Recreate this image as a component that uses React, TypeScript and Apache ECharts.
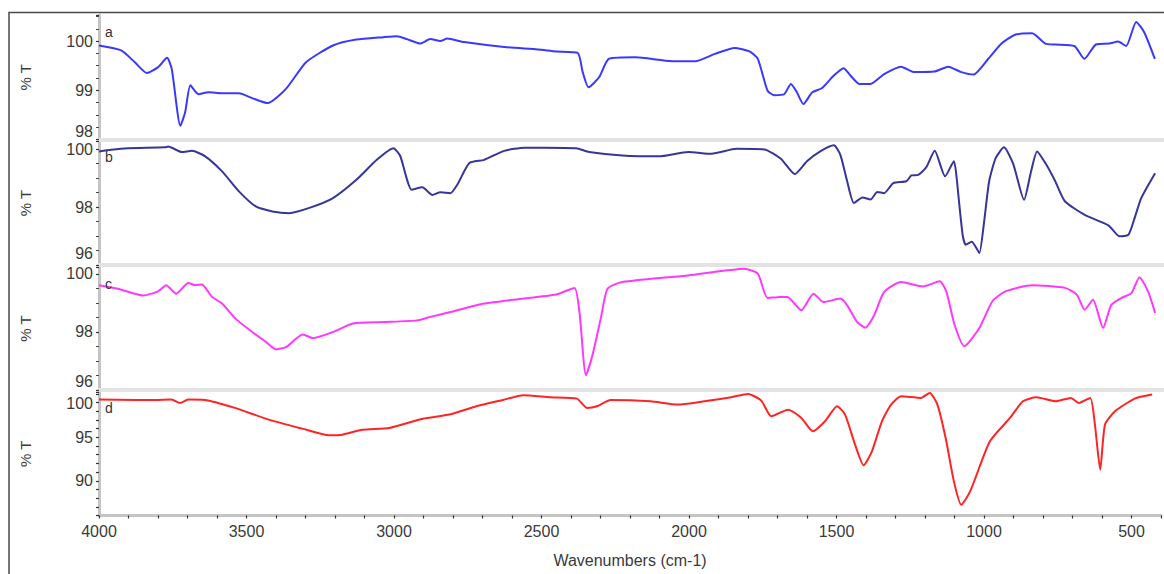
import React, { useEffect, useRef } from "react";
import * as echarts from "echarts";

const FONT = '"Liberation Sans", Arial, sans-serif';

// ---- data (wavenumber cm-1, %T) ----
const aWave = [4000, 3925, 3879, 3838, 3800, 3770, 3754, 3725, 3709, 3691, 3664, 3630, 3584, 3527, 3482, 3430, 3368, 3300, 3209, 3130, 3039, 2993, 2959, 2914, 2880, 2846, 2823, 2766, 2630, 2516, 2455, 2382, 2365, 2345, 2309, 2276, 2186, 2063, 1985, 1918, 1851, 1801, 1773, 1740, 1717, 1684, 1661, 1641, 1619, 1589, 1557, 1516, 1483, 1460, 1430, 1392, 1346, 1289, 1244, 1176, 1130, 1085, 1044, 994, 949, 903, 846, 801, 767, 703, 669, 630, 585, 555, 528, 494, 467, 431];
const aT = [99.91, 99.81, 99.57, 99.35, 99.47, 99.66, 99.43, 98.28, 98.55, 99.10, 98.92, 98.96, 98.94, 98.94, 98.84, 98.74, 99.03, 99.57, 99.91, 100.03, 100.08, 100.10, 100.04, 99.95, 100.04, 100.0, 100.05, 99.98, 99.88, 99.83, 99.79, 99.76, 99.37, 99.06, 99.27, 99.64, 99.67, 99.59, 99.59, 99.74, 99.86, 99.79, 99.64, 98.99, 98.90, 98.92, 99.13, 98.96, 98.72, 98.96, 99.04, 99.30, 99.45, 99.30, 99.13, 99.13, 99.33, 99.48, 99.37, 99.38, 99.48, 99.37, 99.32, 99.64, 99.95, 100.13, 100.16, 99.95, 99.93, 99.90, 99.64, 99.93, 99.95, 99.99, 99.90, 100.39, 100.18, 99.64];

const bWave = [4000, 3959, 3902, 3777, 3766, 3720, 3686, 3641, 3584, 3527, 3470, 3414, 3357, 3289, 3209, 3130, 3061, 3005, 2982, 2943, 2907, 2873, 2846, 2812, 2789, 2748, 2698, 2630, 2562, 2493, 2387, 2343, 2231, 2108, 2008, 1929, 1845, 1751, 1695, 1648, 1607, 1562, 1516, 1494, 1471, 1448, 1419, 1392, 1369, 1346, 1315, 1271, 1254, 1231, 1204, 1175, 1140, 1110, 1102, 1092, 1080, 1070, 1050, 1035, 1024, 1008, 991, 969, 941, 910, 873, 850, 829, 800, 768, 735, 668, 588, 550, 520, 500, 477, 430];
const bT = [99.92, 99.98, 100.03, 100.06, 100.09, 99.90, 99.94, 99.75, 99.23, 98.54, 98.02, 97.85, 97.79, 97.97, 98.31, 98.94, 99.63, 100.03, 99.77, 98.60, 98.68, 98.42, 98.51, 98.48, 98.77, 99.52, 99.63, 99.94, 100.05, 100.05, 100.03, 99.90, 99.78, 99.75, 99.90, 99.84, 100.01, 99.99, 99.67, 99.14, 99.58, 99.92, 100.13, 99.80, 98.89, 98.14, 98.33, 98.26, 98.52, 98.48, 98.83, 98.89, 99.09, 99.11, 99.37, 99.94, 99.06, 99.58, 99.11, 98.10, 97.00, 96.70, 96.80, 96.60, 96.41, 97.50, 98.89, 99.69, 100.06, 99.50, 98.25, 99.20, 99.92, 99.50, 98.90, 98.20, 97.73, 97.37, 96.99, 97.05, 97.60, 98.31, 99.17];

const cWave = [4000, 3936, 3852, 3800, 3773, 3739, 3698, 3675, 3652, 3618, 3584, 3539, 3482, 3436, 3402, 3368, 3311, 3277, 3209, 3141, 3039, 2925, 2880, 2812, 2698, 2584, 2455, 2393, 2376, 2354, 2332, 2304, 2281, 2231, 2008, 1818, 1773, 1740, 1698, 1673, 1626, 1585, 1551, 1494, 1471, 1437, 1410, 1380, 1346, 1289, 1214, 1158, 1136, 1108, 1075, 1024, 980, 936, 846, 735, 695, 668, 640, 606, 578, 545, 510, 483, 454, 430];
const cT = [99.61, 99.49, 99.26, 99.40, 99.61, 99.32, 99.69, 99.61, 99.64, 99.21, 98.98, 98.46, 98.00, 97.66, 97.40, 97.48, 97.91, 97.79, 98.00, 98.29, 98.34, 98.40, 98.52, 98.69, 98.98, 99.13, 99.29, 99.52, 98.69, 96.51, 97.20, 98.46, 99.49, 99.72, 99.95, 100.18, 100.01, 99.17, 99.21, 99.21, 98.75, 99.32, 99.03, 99.15, 98.92, 98.34, 98.15, 98.57, 99.38, 99.72, 99.57, 99.75, 99.40, 98.25, 97.51, 98.14, 99.06, 99.40, 99.61, 99.52, 99.29, 98.77, 99.11, 98.14, 98.94, 99.17, 99.34, 99.89, 99.40, 98.66];

const dWave = [4000, 3879, 3811, 3754, 3725, 3698, 3641, 3539, 3425, 3311, 3220, 3175, 3107, 3016, 2902, 2812, 2721, 2630, 2562, 2471, 2380, 2346, 2312, 2266, 2130, 2039, 1948, 1857, 1800, 1755, 1721, 1664, 1619, 1580, 1539, 1498, 1471, 1437, 1408, 1380, 1346, 1315, 1281, 1214, 1184, 1158, 1130, 1102, 1077, 1047, 980, 912, 868, 823, 756, 706, 678, 640, 624, 606, 590, 556, 489, 430];
const dT = [99.35, 99.31, 99.31, 99.35, 98.96, 99.35, 99.31, 98.39, 97.04, 96.00, 95.23, 95.31, 95.88, 96.08, 97.15, 97.62, 98.58, 99.31, 99.85, 99.62, 99.46, 98.39, 98.58, 99.31, 99.15, 98.77, 99.15, 99.62, 100.00, 99.23, 97.42, 98.19, 97.23, 95.69, 96.85, 98.58, 97.62, 94.15, 91.78, 93.39, 96.85, 98.77, 99.73, 99.54, 100.10, 98.77, 94.92, 89.93, 87.23, 88.77, 94.54, 97.23, 99.15, 99.61, 99.15, 99.54, 98.96, 99.54, 96.46, 91.27, 96.46, 98.00, 99.46, 99.92];

const panelLetters = ["a", "b", "c", "d"];
const aTicks = [98, 99, 100];
const bTicks = [96, 98, 100];
const cTicks = [96, 98, 100];
const dTicks = [90, 95, 100];
const xTicks = [4000, 3500, 3000, 2500, 2000, 1500, 1000, 500];
const xTitle = "Wavenumbers (cm-1)";
const yTitle = "% T";

// ---- layout / style ----
const panels = [
  { wave: aWave, vals: aT, ticks: aTicks, top: 15, height: 124.5, min: 98, max: 100.53, interval: 1, minor: 4, color: "#3838ff", shiftVal: 98, pad: [0, 0, 16, 0], letterY: 32 },
  { wave: bWave, vals: bT, ticks: bTicks, top: 141, height: 124, min: 96, max: 100.28, interval: 2, minor: 4, color: "#35359a", shiftVal: 96, pad: [0, 0, 24, 0], letterY: 157 },
  { wave: cWave, vals: cT, ticks: cTicks, top: 267, height: 123, min: 96, max: 100.24, interval: 2, minor: 4, color: "#ff38ff", shiftVal: 96, pad: [0, 0, 18, 0], letterY: 284 },
  { wave: dWave, vals: dT, ticks: dTicks, top: 392, height: 123.5, min: 86, max: 100.22, interval: 1, minor: 0, color: "#ff2424", shiftVal: 100, pad: [20, 0, 0, 0], letterY: 408 },
];

const GRID_LEFT = 99;
const GRID_RIGHT = -9;

export default function App() {
  const ref = useRef<HTMLDivElement>(null);
  useEffect(() => {
    if (!ref.current) return;
    const chart = echarts.init(ref.current, null, { renderer: "svg" });

    const grids = panels.map((p) => ({ left: GRID_LEFT, right: GRID_RIGHT, top: p.top, height: p.height, containLabel: false }));

    const xAxes = panels.map((p, i) => {
      const last = i === panels.length - 1;
      return {
        type: "value",
        gridIndex: i,
        min: 400,
        max: 4000,
        interval: 100,
        inverse: true,
        splitLine: { show: false },
        axisLine: { show: true, onZero: false, lineStyle: { color: last ? "#c4c4c4" : "#e3e3e3", width: last ? 3 : 4 } },
        axisTick: { show: last, length: 3, lineStyle: { color: "#333", width: 1.2 } },
        axisLabel: {
          show: last,
          margin: 8,
          fontFamily: FONT,
          fontSize: 16,
          color: "#3a3a3a",
          formatter: (v: number) => (xTicks.includes(v) ? String(v) : ""),
        },
        name: last ? xTitle : "",
        nameLocation: "middle",
        nameGap: 37,
        nameTextStyle: { fontFamily: FONT, fontSize: 16, color: "#3a3a3a" },
      };
    });

    const yAxes = panels.map((p, i) => ({
      type: "value",
      gridIndex: i,
      min: p.min,
      max: p.max,
      interval: p.interval,
      splitLine: { show: false },
      name: yTitle,
      nameLocation: "middle",
      nameGap: 66,
      nameTextStyle: { fontFamily: FONT, fontSize: 15, color: "#3a3a3a" },
      axisLine: { show: true, lineStyle: { color: "#c4c4c4", width: 3 } },
      axisTick: { show: true, length: 3, lineStyle: { color: "#333", width: 1.2 } },
      minorTick: { show: p.minor > 0, splitNumber: p.minor || 5, length: 3, lineStyle: { color: "#444", width: 1 } },
      axisLabel: {
        margin: 6,
        fontFamily: FONT,
        fontSize: 16,
        color: "#3a3a3a",
        formatter: (v: number) => {
          const t = p.ticks.find((x) => Math.abs(x - v) < 1e-6);
          if (t === undefined) return "";
          if (t === p.shiftVal) return `{s|${t}}`;
          return String(t);
        },
        rich: { s: { fontFamily: FONT, fontSize: 16, color: "#3a3a3a", padding: p.pad } },
      },
    }));

    const series = panels.map((p, i) => ({
      type: "line",
      xAxisIndex: i,
      yAxisIndex: i,
      data: p.wave.map((w, k) => [w, p.vals[k]]),
      showSymbol: false,
      smooth: 0.2,
      lineStyle: { color: p.color, width: 2 },
      silent: true,
    }));

    const graphics: any[] = [
      { type: "rect", shape: { x: 9, y: 12.5, width: 1200, height: 600 }, style: { fill: "none", stroke: "#4a4a4a", lineWidth: 1.5 }, z: 10 },
      ...panels.map((p, i) => ({
        type: "text",
        x: 105,
        y: p.letterY,
        z: 10,
        style: { text: panelLetters[i], fontFamily: FONT, fontSize: 14, fill: "#333", verticalAlign: "middle" },
      })),
    ];

    chart.setOption({
      animation: false,
      backgroundColor: "#ffffff",
      grid: grids,
      xAxis: xAxes,
      yAxis: yAxes,
      series,
      graphic: graphics,
    });
    return () => chart.dispose();
  }, []);
  return (
    <div
      ref={ref}
      style={{ position: "fixed", left: 0, top: 0, width: 1164, height: 574, background: "#fff" }}
    />
  );
}
